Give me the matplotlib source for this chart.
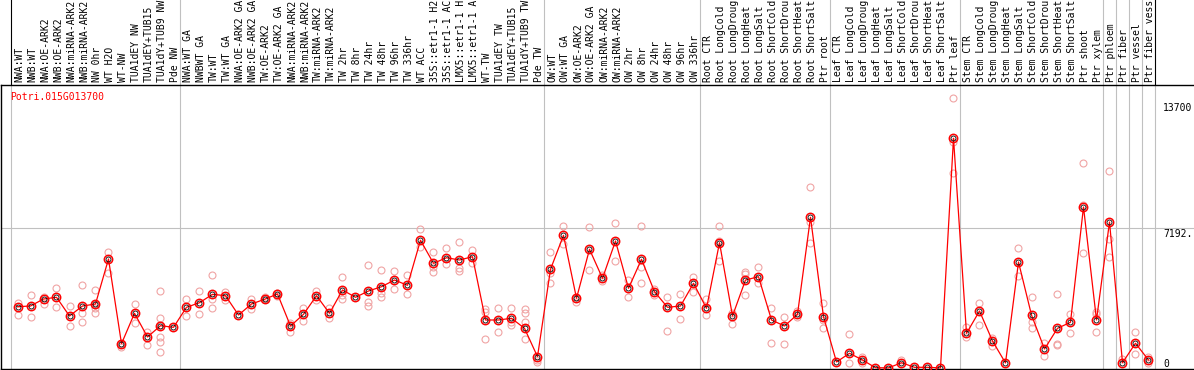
import matplotlib
matplotlib.use("Agg")
import matplotlib.pyplot as plt
from matplotlib.transforms import blended_transform_factory

# --- Data ---
# sample names as far as they are visible in the header strip (14 characters)
labels = [
    # NW
    "NWA:WT", "NWB:WT", "NWA:OE-ARK2", "NWB:OE-ARK2", "NWA:miRNA-ARK2", "NWB:miRNA-ARK2",
    "NW 0hr", "WT H2O", "WT-NW", "TUA1dEY NW", "TUA1dEY+TUB15", "TUA1dY+TUB9 NW", "Pde NW",
    # TW
    "NWA:WT GA", "NWBWT GA", "TW:WT", "TW:WT GA", "NWA:OE-ARK2 GA", "NWB:OE-ARK2 GA",
    "TW:OE-ARK2", "TW:OE-ARK2 GA", "NWA:miRNA-ARK2", "NWB:miRNA-ARK2", "TW:miRNA-ARK2",
    "TW:miRNA-ARK2", "TW 2hr", "TW 8hr", "TW 24hr", "TW 48hr", "TW 96hr", "TW 336hr",
    "WT ACC", "35S::etr1-1 H2", "35S::etr1-1 AC", "LMX5::etr1-1 H", "LMX5::etr1-1 A",
    "WT-TW", "TUA1dEY TW", "TUA1dEY+TUB15", "TUA1dY+TUB9 TW", "Pde TW",
    # OW
    "OW:WT", "OW:WT GA", "OW:OE-ARK2", "OW:OE-ARK2 GA", "OW:miRNA-ARK2", "OW:miRNA-ARK2",
    "OW 2hr", "OW 8hr", "OW 24hr", "OW 48hr", "OW 96hr", "OW 336hr",
    # Root
    "Root CTR", "Root LongCold", "Root LongDroug", "Root LongHeat", "Root LongSalt",
    "Root ShortCold", "Root ShortDrou", "Root ShortHeat", "Root ShortSalt", "Ptr root",
    # Leaf
    "Leaf CTR", "Leaf LongCold", "Leaf LongDroug", "Leaf LongHeat", "Leaf LongSalt",
    "Leaf ShortCold", "Leaf ShortDrou", "Leaf ShortHeat", "Leaf ShortSalt", "Ptr leaf",
    # Stem
    "Stem CTR", "Stem LongCold", "Stem LongDroug", "Stem LongHeat", "Stem LongSalt",
    "Stem ShortCold", "Stem ShortDrou", "Stem ShortHeat", "Stem ShortSalt", "Ptr shoot",
    "Ptr xylem",
    # single tissues
    "Ptr phloem", "Ptr fiber", "Ptr vessel", "Ptr fiber vess",
]

means = [
    3156, 3192, 3552, 3640, 2677, 3192, 3295, 5611, 1251, 2816, 1596, 2178, 2095,
    3125, 3362, 3794, 3722, 2728, 3295, 3537, 3810, 2162, 2764, 3722, 2816, 4015, 3640,
    3964, 4185, 4530, 4257, 6574, 5390, 5678, 5560, 5730, 2471, 2471, 2559, 2044, 582,
    5081, 6831, 3588, 6111, 4618, 6538, 4103, 5596, 3928, 3125, 3192, 4360,
    3073, 6450, 2677, 4530, 4700, 2471, 2162, 2764, 7758, 2641,
    309, 757, 412, 15, 5, 273, 36, 36, 5, 11825,
    1786, 2934, 1390, 260, 5457, 2728, 978, 2044, 2353, 8288, 2471,
    7516, 273, 1272, 412,
]

replicates = [
    [3346, 2728], [3758, 2625], [3670, 3310], [4103, 3125], [3192, 2162],
    [4273, 2816, 2353], [4015, 3295, 3089, 2831], [5987, 4875], [1251, 1081],
    [3295, 2332], [1869, 1184], [3964, 2589, 2214, 1611, 1354, 839], [],
    [3537, 2692], [3979, 2780], [4788, 3537, 3104], [3928, 3501], [],
    [3537, 3037], [3670, 3537], [3876, 3722], [2332, 1869], [3073, 2435],
    [3979, 3501], [3073, 2589], [4669, 3758, 3537], [], [5302, 3413, 3192],
    [5045, 3846, 3670], [4994, 4051], [4788, 3794], [7156, 6244],
    [5987, 5215, 4927], [6162, 5354], [6471, 5163, 5009], [6075, 5390],
    [3022, 2898, 1477], [3073, 1838], [3073, 2384, 2214], [3022, 2816, 2384, 1477],
    [412, 324],
    [5956, 4875, 4360], [7310, 6368], [3670, 3413], [7243, 5045], [4788, 4494],
    [7449, 5524], [4530, 3640], [7310, 5215, 4360], [4051, 3758], [3670, 1905],
    [3794, 2507], [4700, 3928],
    [3537, 2728], [7310, 6553, 5508], [2847, 2265], [4957, 4839, 3743], [5184, 4360],
    [3073, 1272], [2610, 1236], [2950, 2610], [9302, 7531, 6419], [3331, 2471, 2044],
    [], [1750, 273], [582, 273], [], [], [412], [], [], [], [13884, 11650, 10023],
    [2126, 1611], [3331, 2214], [1560, 1148], [], [6162, 4736], [3655, 2384, 2044],
    [1272, 633], [3794, 1220, 1184], [2764, 1786], [10538, 8391, 5905],
    [2898, 2780, 1869],
    [10126, 6641, 5730], [463], [1869, 705], [566, 257],
]

group_breaks = [0, 13, 41, 53, 63, 73, 84, 85, 86, 87, 88]
gene = "Potri.015G013700"
axis_labels = ["13700", "7192.", "0"]
axis_values = [13700, 7192.5, 0]

# --- Layout in pixels ---
W, H = 1194, 370
FONT = "DejaVu Sans Mono"
FS = 7.0
GRID = "#c0c0c0"


def px_axes(fig, x0, y0, x1, y1):
    return fig.add_axes([x0 / W, 1 - y1 / H, (x1 - x0) / W, (y1 - y0) / H])


fig = plt.figure(figsize=(W / 100, H / 100), dpi=100)
xlim = ((1 - 17.5) / 13, (W - 17.5) / 13)

# header with the rotated sample names
hdr = px_axes(fig, 1, 0, W, 85)
hdr.set_xlim(*xlim)
hdr.set_ylim(0, 1)
hdr.axis("off")
for b in group_breaks:
    edge = b in (group_breaks[0], group_breaks[-1])
    hdr.axvline(b - 0.5, color="black" if edge else GRID, lw=0.8)
tr = blended_transform_factory(hdr.transData, hdr.transAxes)
for i, lab in enumerate(labels):
    hdr.text(i + 0.12, 2.5 / 85, lab, rotation=90, ha="center", va="bottom",
             transform=tr, fontsize=FS, family=FONT, clip_on=False)

# main plot
ax = px_axes(fig, 1, 85, W, 369)
ax.set_xlim(*xlim)
ax.set_ylim(-1 * 51.48, 283 * 51.48)
ax.set_xticks([])
ax.set_yticks([])
for s in ("left", "top", "bottom"):
    ax.spines[s].set_color("black")
    ax.spines[s].set_linewidth(1.0)
ax.spines["right"].set_visible(False)

for b in group_breaks:
    ax.axvline(b - 0.5, color=GRID, lw=0.8, zorder=1)
ax.axhline(7192.5, color=GRID, lw=0.8, zorder=1)

for i, reps in enumerate(replicates):
    if reps:
        ax.plot([i] * len(reps), reps, "o", ms=5, mfc="none", mec="#f0a4a4",
                mew=0.8, zorder=2, clip_on=False)

xs = list(range(len(means)))
ax.plot(xs, means, "-", color="red", lw=0.9, zorder=3)
ax.plot(xs, means, "o", ms=6, mfc="none", mec="red", mew=1.1, zorder=4, clip_on=False)
ax.plot(xs, means, "o", ms=3.6, mfc="none", mec="black", mew=0.6, zorder=5, clip_on=False)

ax.text(10 / W, 1 - 97.3 / H, gene, transform=fig.transFigure, color="red",
        fontsize=FS, family=FONT, va="center", ha="left")

# value labels on the right
y_top = {13700: 103.3, 7192.5: 229.0, 0: 359.0}
for txt, v in zip(axis_labels, axis_values):
    fig.text(1163 / W, 1 - y_top[v] / H, txt, fontsize=FS, family=FONT,
             va="top", ha="left")

fig.savefig("out.png", dpi=100)
